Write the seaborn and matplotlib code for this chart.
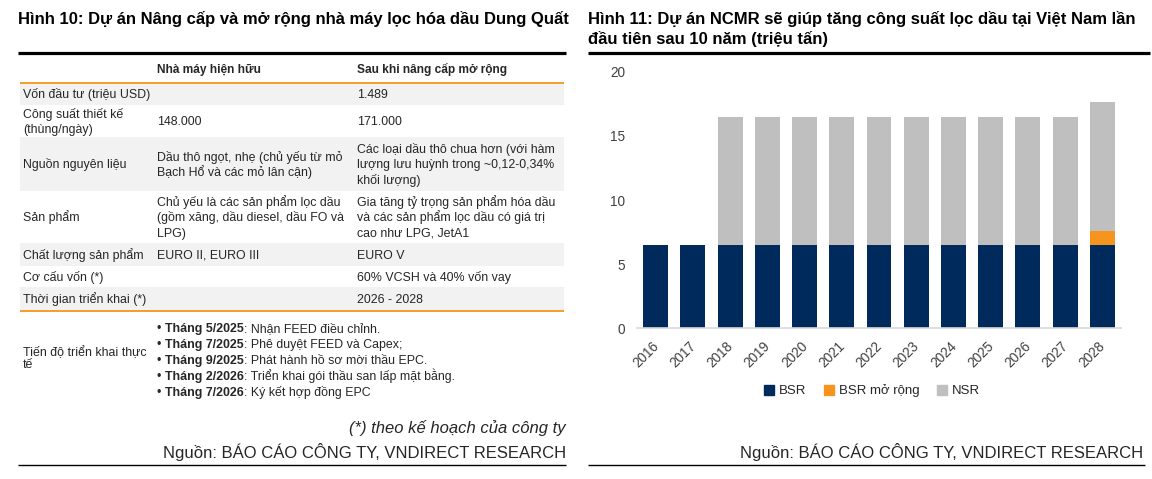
import matplotlib
matplotlib.use("Agg")
import matplotlib.pyplot as plt
import matplotlib.transforms as mtransforms
import seaborn as sns
import pandas as pd
from matplotlib.patches import Rectangle, Patch

# ---- bar chart data (triệu tấn) ----
years = ["2016", "2017", "2018", "2019", "2020", "2021", "2022",
         "2023", "2024", "2025", "2026", "2027", "2028"]
bsr = [6.5, 6.5, 6.5, 6.5, 6.5, 6.5, 6.5, 6.5, 6.5, 6.5, 6.5, 6.5, 6.5]
bsr_mo_rong = [0, 0, 0, 0, 0, 0, 0, 0, 0, 0, 0, 0, 1.1]
nsr = [0, 0, 10, 10, 10, 10, 10, 10, 10, 10, 10, 10, 10]
series_names = ["BSR", "BSR mở rộng", "NSR"]
y_ticks = [0, 5, 10, 15, 20]

# ---- table data ----
header = ["Nhà máy hiện hữu", "Sau khi nâng cấp mở rộng"]
row_labels = ["Vốn đầu tư (triệu USD)", "Công suất thiết kế\n(thùng/ngày)",
              "Nguồn nguyên liệu", "Sản phẩm", "Chất lượng sản phẩm",
              "Cơ cấu vốn (*)", "Thời gian triển khai (*)"]
col_existing = ["", "148.000",
                "Dầu thô ngọt, nhẹ (chủ yếu từ mỏ\nBạch Hổ và các mỏ lân cận)",
                "Chủ yếu là các sản phẩm lọc dầu\n(gồm xăng, dầu diesel, dầu FO và\nLPG)",
                "EURO II, EURO III", "", ""]
col_upgraded = ["1.489", "171.000",
                "Các loại dầu thô chua hơn (với hàm\nlượng lưu huỳnh trong ~0,12-0,34%\nkhối lượng)",
                "Gia tăng tỷ trọng sản phẩm hóa dầu\nvà các sản phẩm lọc dầu có giá trị\ncao như LPG, JetA1",
                "EURO V", "60% VCSH và 40% vốn vay", "2026 - 2028"]
progress_label = "Tiến độ triển khai thực\ntế"
progress_dates = ["Tháng 5/2025", "Tháng 7/2025", "Tháng 9/2025",
                  "Tháng 2/2026", "Tháng 7/2026"]
progress_items = ["Nhận FEED điều chỉnh.", "Phê duyệt FEED và Capex;",
                  "Phát hành hồ sơ mời thầu EPC.",
                  "Triển khai gói thầu san lấp mặt bằng.",
                  "Ký kết hợp đồng EPC"]

title_left = "Hình 10: Dự án Nâng cấp và mở rộng nhà máy lọc hóa dầu Dung Quất"
title_right = ["Hình 11: Dự án NCMR sẽ giúp tăng công suất lọc dầu tại Việt Nam lần",
               "đầu tiên sau 10 năm (triệu tấn)"]
note_left = "(*) theo kế hoạch của công ty"
source = "Nguồn: BÁO CÁO CÔNG TY, VNDIRECT RESEARCH"

# ---- styles ----
NAVY = "#002a5c"
ORANGE = "#f7941d"
GREY = "#bfbfbf"
ROW_BG = "#f2f2f2"
TXT = "#262626"
FS = 8.9

sns.set_style("white")
plt.rcParams["font.family"] = ["Liberation Sans", "DejaVu Sans"]

W, H = 1152, 479
fig = plt.figure(figsize=(W / 100, H / 100), dpi=100)

# overlay in pixel coordinates for the table and titles
ov = fig.add_axes([0, 0, 1, 1])
ov.set_xlim(0, W)
ov.set_ylim(H, 0)
ov.axis("off")


def lines(x, yc, txt, pitch, size=FS, **kw):
    # draw each line on its own baseline so accents don't shift rows
    parts = txt.split("\n")
    n = len(parts)
    for k, p in enumerate(parts):
        yy = yc + (k - (n - 1) / 2) * pitch + size * 0.5
        ov.text(x, yy, p, fontsize=size, va="baseline", ha="left", color=TXT, **kw)


# titles
ov.text(18, 23.5, title_left, fontsize=12, fontweight="bold", va="baseline", color="black")
ov.text(588, 23.5, title_right[0], fontsize=12, fontweight="bold", va="baseline", color="black")
ov.text(588, 43.5, title_right[1], fontsize=12, fontweight="bold", va="baseline", color="black")

# thick rules
ov.plot([18, 566], [52.7, 52.7], color="black", lw=2.3, solid_capstyle="butt")
ov.plot([588, 1150], [52.7, 52.7], color="black", lw=2.3, solid_capstyle="butt")
# bottom rules
ov.plot([18, 566], [465, 465], color="black", lw=1.0, solid_capstyle="butt")
ov.plot([588, 1145], [465, 465], color="black", lw=1.0, solid_capstyle="butt")

# table
col_x = [23, 157, 357]
tbl_l, tbl_r = 20, 564
lines(col_x[1], 69, header[0], 15.5, size=8.6, fontweight="bold")
lines(col_x[2], 69, header[1], 15.5, size=8.6, fontweight="bold")

row_edges = [83, 105, 137, 191, 243, 266, 287, 311]
for i, lab in enumerate(row_labels):
    top, bot = row_edges[i], row_edges[i + 1]
    if i % 2 == 0:
        ov.add_patch(Rectangle((tbl_l, top), tbl_r - tbl_l, bot - top, color=ROW_BG, lw=0, zorder=0))
    yc = (top + bot) / 2
    for x, txt in zip(col_x, [lab, col_existing[i], col_upgraded[i]]):
        if txt:
            lines(x, yc, txt, 15.5)

ov.plot([tbl_l, tbl_r], [82.7, 82.7], color=ORANGE, lw=1.3, solid_capstyle="butt")
ov.plot([tbl_l, tbl_r], [311, 311], color=ORANGE, lw=1.3, solid_capstyle="butt")

# progress row
lines(col_x[0], 358, progress_label, 12)
fig.canvas.draw()
renderer = fig.canvas.get_renderer()
for i, (d, item) in enumerate(zip(progress_dates, progress_items)):
    y = 327.3 + 16 * i + FS * 0.5
    t1 = ov.text(col_x[1], y, "• ", fontsize=FS, va="baseline", color=TXT)
    w1 = t1.get_window_extent(renderer).width
    t2 = ov.text(col_x[1] + w1, y, d, fontsize=FS, fontweight="bold", va="baseline", color=TXT)
    w2 = t2.get_window_extent(renderer).width
    ov.text(col_x[1] + w1 + w2, y, ": " + item, fontsize=FS, va="baseline", color=TXT)

# notes and sources
ov.text(566, 428, note_left, fontsize=12, style="italic", ha="right", va="center", color=TXT)
ov.text(566, 452, source, fontsize=12, ha="right", va="center", color=TXT)
ov.text(1143, 452, source, fontsize=12, ha="right", va="center", color=TXT)

# ---- stacked bar chart ----
df = pd.DataFrame({"Năm": years, "BSR": bsr, "BSR mở rộng": bsr_mo_rong, "NSR": nsr})
df["lvl1"] = df["BSR"]
df["lvl2"] = df["lvl1"] + df["BSR mở rộng"]
df["lvl3"] = df["lvl2"] + df["NSR"]

ax = fig.add_axes([637 / W, 1 - 328.3 / H, 484 / W, 256.6 / H])
for col, c in [("lvl3", GREY), ("lvl2", ORANGE), ("lvl1", NAVY)]:
    sns.barplot(data=df, x="Năm", y=col, color=c, saturation=1, width=0.67,
                linewidth=0, ax=ax)

ax.set_xlim(-0.5, len(years) - 0.5)
ax.set_ylim(0, 20)
ax.set_yticks(y_ticks)
ax.set_xlabel("")
ax.set_ylabel("")
for s in ["top", "right", "left"]:
    ax.spines[s].set_visible(False)
ax.spines["bottom"].set_color("#d9d9d9")
ax.spines["bottom"].set_linewidth(1.2)
ax.tick_params(axis="y", length=0, pad=8.5, labelsize=9.8, labelcolor="#404040")
ax.tick_params(axis="x", length=0, pad=7.5, labelsize=9.8, labelcolor="#404040")
shift = mtransforms.ScaledTranslation(-4 / 100, 0, fig.dpi_scale_trans)
for lab in ax.get_xticklabels():
    lab.set_rotation(45)
    lab.set_ha("right")
    lab.set_va("top")
    lab.set_rotation_mode("anchor")
    lab.set_transform(lab.get_transform() + shift)

handles = [Patch(color=NAVY), Patch(color=ORANGE), Patch(color=GREY)]
fig.legend(handles, series_names, loc="center", bbox_to_anchor=(872 / W, 1 - 391 / H),
           ncol=3, frameon=False, fontsize=9.5, handlelength=0.75, handleheight=0.75,
           handletextpad=0.4, columnspacing=1.3, labelcolor="#262626")

fig.savefig("out.png", dpi=100)
